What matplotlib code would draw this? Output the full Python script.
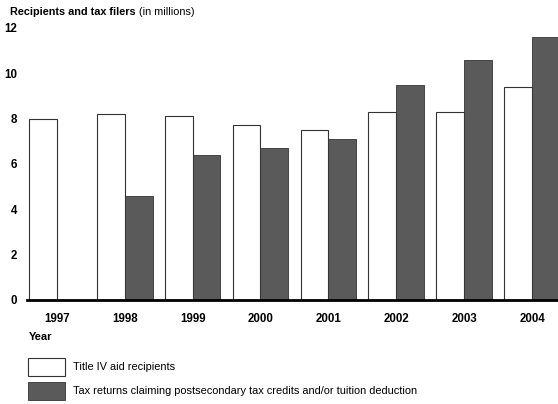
import matplotlib
matplotlib.use("Agg")
import matplotlib.pyplot as plt
import numpy as np
from matplotlib.patches import Rectangle

years = ["1997", "1998", "1999", "2000", "2001", "2002", "2003", "2004"]
title_iv = [8.0, 8.2, 8.1, 7.7, 7.5, 8.3, 8.3, 9.4]
tax_returns = [0.0, 4.6, 6.4, 6.7, 7.1, 9.5, 10.6, 11.6]
yticks = [0, 2, 4, 6, 8, 10, 12]

plt.rcParams["font.family"] = ["Liberation Sans", "DejaVu Sans"]

W, H = 558, 404
fig = plt.figure(figsize=(W / 100, H / 100), dpi=100)
ax = fig.add_axes([27 / W, 1 - 300 / H, 1 - 27 / W, (300 - 28) / H])

x = np.arange(len(years))
bw = 0.41
ax.bar(x - bw / 2, title_iv, bw, color="white", edgecolor="#333333", linewidth=0.8)
ax.bar(x + bw / 2, tax_returns, bw, color="#5a5a5a", edgecolor="#333333", linewidth=0.6)

ax.set_xlim(-0.44, 7.383)
ax.set_ylim(0, 12)
for s in ["top", "right", "left"]:
    ax.spines[s].set_visible(False)
ax.spines["bottom"].set_linewidth(2.0)
ax.spines["bottom"].set_color("black")
ax.set_xticks(x)
ax.set_xticklabels(years, fontsize=8.3, fontweight="bold")
ax.set_yticks(yticks)
ax.set_yticklabels([str(v) for v in yticks], fontsize=8.3, fontweight="bold")
ax.tick_params(axis="both", length=0)
ax.tick_params(axis="x", pad=9)
ax.tick_params(axis="y", pad=7)

fig.text(10 / W, 1 - 12 / H, "Recipients and tax filers", fontsize=7.8,
         fontweight="bold", va="center", ha="left")
fig.text(139 / W, 1 - 12 / H, "(in millions)", fontsize=7.8,
         va="center", ha="left")
fig.text(29 / W, 1 - 337 / H, "Year", fontsize=8, fontweight="bold",
         va="center", ha="left")

# legend swatches and labels
fig.patches.append(Rectangle((28 / W, 1 - 376 / H), 37 / W, 18 / H,
                             transform=fig.transFigure, facecolor="white",
                             edgecolor="#333333", linewidth=0.8))
fig.patches.append(Rectangle((28 / W, 1 - 400 / H), 37 / W, 18 / H,
                             transform=fig.transFigure, facecolor="#5a5a5a",
                             edgecolor="#333333", linewidth=0.6))
fig.text(73 / W, 1 - 367 / H, "Title IV aid recipients", fontsize=7.9,
         va="center", ha="left")
fig.text(73 / W, 1 - 391 / H,
         "Tax returns claiming postsecondary tax credits and/or tuition deduction",
         fontsize=7.9, va="center", ha="left")

fig.savefig("out.png", dpi=100)
